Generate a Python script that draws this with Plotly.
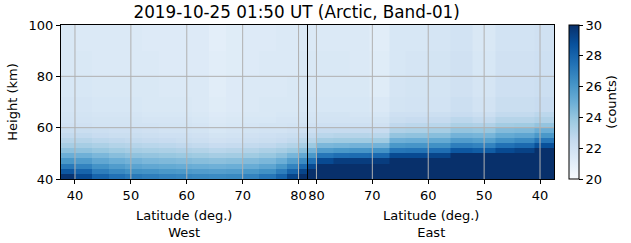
import numpy as np
import plotly.graph_objects as go

# ---------------- data ----------------
title_text = "2019-10-25 01:50 UT (Arctic, Band-01)"
boundary_lat = 81.6  # northernmost latitude where the West and East passes meet

# height bin edges (km)
height_edges = [40, 42, 44, 46, 48, 50, 52, 54, 56, 58, 60, 62, 64, 66, 72, 80, 90, 100]

# West pass: latitude bin edges (ascending, left -> right)
west_lat_edges = [37.5, 40, 43, 46, 49, 52, 55, 58, 61, 64, 67, 70, 73, 76, 78, 80, 81.6]
# one vertical profile (counts, bottom -> top) per latitude bin
west_profiles = [
    [29.8, 28.5, 27.2, 26.0, 25.0, 24.2, 23.5, 23.0, 22.6, 22.3, 22.0, 21.9, 21.8, 21.7, 21.6, 21.5, 21.5],
    [29.0, 28.0, 26.8, 25.8, 24.9, 24.1, 23.5, 23.0, 22.6, 22.3, 22.0, 21.9, 21.8, 21.7, 21.6, 21.5, 21.4],
    [28.0, 27.0, 26.2, 25.3, 24.6, 23.9, 23.3, 22.8, 22.4, 22.2, 21.9, 21.8, 21.7, 21.6, 21.5, 21.4, 21.4],
    [27.5, 26.6, 25.8, 25.0, 24.3, 23.7, 23.1, 22.7, 22.3, 22.1, 21.9, 21.8, 21.7, 21.6, 21.5, 21.4, 21.4],
    [27.2, 26.3, 25.5, 24.8, 24.1, 23.5, 23.0, 22.6, 22.3, 22.1, 21.9, 21.8, 21.7, 21.6, 21.5, 21.4, 21.4],
    [27.0, 26.2, 25.3, 24.6, 24.0, 23.4, 22.9, 22.5, 22.2, 22.0, 21.9, 21.7, 21.6, 21.5, 21.5, 21.4, 21.3],
    [26.8, 26.0, 25.2, 24.5, 23.9, 23.3, 22.8, 22.4, 22.1, 21.9, 21.8, 21.7, 21.6, 21.5, 21.4, 21.3, 21.3],
    [26.7, 25.9, 25.1, 24.4, 23.8, 23.2, 22.7, 22.3, 22.1, 21.9, 21.8, 21.7, 21.6, 21.5, 21.4, 21.3, 21.3],
    [26.6, 25.8, 25.0, 24.3, 23.7, 23.1, 22.6, 22.2, 22.0, 21.8, 21.7, 21.6, 21.5, 21.4, 21.4, 21.3, 21.3],
    [26.5, 25.7, 24.9, 24.2, 23.5, 22.9, 22.4, 22.0, 21.8, 21.6, 21.5, 21.4, 21.3, 21.2, 21.1, 21.1, 21.0],
    [26.6, 25.8, 25.0, 24.3, 23.6, 23.0, 22.5, 22.1, 21.9, 21.7, 21.6, 21.5, 21.4, 21.3, 21.3, 21.2, 21.2],
    [26.8, 26.0, 25.1, 24.4, 23.7, 23.1, 22.6, 22.2, 22.0, 21.8, 21.7, 21.6, 21.5, 21.4, 21.4, 21.3, 21.3],
    [27.3, 26.3, 25.4, 24.6, 23.9, 23.3, 22.7, 22.3, 22.1, 21.9, 21.8, 21.6, 21.5, 21.5, 21.4, 21.4, 21.3],
    [28.0, 27.0, 26.0, 25.0, 24.2, 23.5, 22.9, 22.4, 22.2, 21.9, 21.8, 21.7, 21.6, 21.5, 21.4, 21.4, 21.4],
    [29.2, 28.0, 26.8, 25.7, 24.7, 23.8, 23.1, 22.6, 22.3, 22.0, 21.9, 21.7, 21.6, 21.5, 21.5, 21.4, 21.4],
    [30.0, 29.2, 27.8, 26.5, 25.3, 24.3, 23.5, 22.9, 22.5, 22.1, 22.0, 21.8, 21.7, 21.6, 21.5, 21.5, 21.4],
]

# East pass: latitude bin edges (descending, left -> right)
east_lat_edges = [81.6, 80, 77, 74, 70.5, 67, 64, 60, 56, 52, 48, 44.5, 41, 37.5]
east_profiles = [
    [30.0, 30.0, 29.0, 27.5, 26.0, 24.8, 23.8, 23.0, 22.6, 22.2, 22.0, 21.8, 21.7, 21.6, 21.5, 21.5, 21.4],
    [30.0, 30.0, 30.0, 29.0, 27.3, 25.8, 24.6, 23.6, 22.9, 22.5, 22.1, 21.9, 21.8, 21.6, 21.5, 21.5, 21.4],
    [30.0, 30.0, 30.0, 29.5, 27.6, 26.0, 24.7, 23.7, 23.0, 22.5, 22.1, 21.9, 21.8, 21.6, 21.5, 21.5, 21.4],
    [30.0, 30.0, 30.0, 29.5, 27.7, 26.1, 24.8, 23.7, 23.0, 22.5, 22.1, 21.9, 21.7, 21.6, 21.5, 21.4, 21.4],
    [30.0, 30.0, 30.0, 29.5, 27.8, 26.2, 24.8, 23.7, 22.9, 22.4, 22.0, 21.8, 21.6, 21.4, 21.2, 21.2, 21.1],
    [30.0, 30.0, 30.0, 30.0, 29.0, 27.3, 26.0, 24.9, 24.0, 23.2, 22.7, 22.3, 22.1, 21.8, 21.7, 21.6, 21.6],
    [30.0, 30.0, 30.0, 30.0, 29.0, 27.4, 26.1, 25.0, 24.1, 23.3, 22.8, 22.4, 22.1, 21.9, 21.8, 21.7, 21.6],
    [30.0, 30.0, 30.0, 30.0, 29.2, 27.6, 26.3, 25.2, 24.3, 23.5, 22.9, 22.5, 22.2, 21.9, 21.8, 21.8, 21.7],
    [30.0, 30.0, 30.0, 30.0, 30.0, 28.5, 27.0, 25.8, 24.8, 24.0, 23.3, 22.8, 22.4, 22.2, 22.0, 22.0, 21.9],
    [30.0, 30.0, 30.0, 30.0, 30.0, 28.3, 26.8, 25.6, 24.7, 23.9, 23.2, 22.6, 22.2, 21.9, 21.7, 21.6, 21.5],
    [30.0, 30.0, 30.0, 30.0, 30.0, 29.0, 27.5, 26.2, 25.2, 24.4, 23.6, 23.0, 22.6, 22.3, 22.1, 22.0, 21.9],
    [30.0, 30.0, 30.0, 30.0, 30.0, 29.3, 27.8, 26.5, 25.4, 24.5, 23.7, 23.0, 22.6, 22.3, 22.1, 22.0, 21.9],
    [30.0, 30.0, 30.0, 30.0, 30.0, 30.0, 28.8, 27.3, 26.0, 25.0, 24.0, 23.2, 22.8, 22.4, 22.2, 22.1, 22.0],
]

west_tick_lats = [40, 50, 60, 70, 80]
east_tick_lats = [80, 70, 60, 50, 40]
height_ticks = [40, 60, 80, 100]
cbar_ticks = [20, 22, 24, 26, 28, 30]
zmin, zmax = 20, 30

# ---------------- figure ----------------
FONT = "DejaVu Sans"
blues = [
    [0.0, "#f7fbff"], [0.125, "#deebf7"], [0.25, "#c6dbef"], [0.375, "#9ecae1"],
    [0.5, "#6baed6"], [0.625, "#4292c6"], [0.75, "#2171b5"], [0.875, "#08519c"],
    [1.0, "#08306b"],
]


def east_u(lat):
    # continuous plot coordinate for the East pass (mirrored past the pole-side boundary)
    return 2 * boundary_lat - lat


west_x = list(west_lat_edges)
east_x = [east_u(v) for v in east_lat_edges]
x_lo = west_lat_edges[0]
x_hi = east_u(east_lat_edges[-1])

fig = go.Figure()
fig.add_trace(go.Heatmap(
    x=west_x, y=height_edges, z=np.array(west_profiles).T,
    coloraxis="coloraxis", hoverinfo="skip",
))
fig.add_trace(go.Heatmap(
    x=east_x, y=height_edges, z=np.array(east_profiles).T,
    coloraxis="coloraxis", hoverinfo="skip",
))

tickvals = list(west_tick_lats) + [east_u(v) for v in east_tick_lats]
ticktext = [str(v) for v in west_tick_lats] + [str(v) for v in east_tick_lats]

shapes = []
for tv in tickvals:
    shapes.append(dict(type="line", xref="x", yref="y", x0=tv, x1=tv,
                       y0=height_edges[0], y1=height_edges[-1],
                       line=dict(color="#b0b0b0", width=1), layer="above"))
for hv in height_ticks[1:-1]:
    shapes.append(dict(type="line", xref="x", yref="y", x0=x_lo, x1=x_hi,
                       y0=hv, y1=hv, line=dict(color="#b0b0b0", width=1), layer="above"))
shapes.append(dict(type="line", xref="x", yref="y", x0=boundary_lat, x1=boundary_lat,
                   y0=height_edges[0], y1=height_edges[-1],
                   line=dict(color="black", width=1), layer="above"))

fig.update_layout(
    width=631, height=243,
    margin=dict(l=61, r=74, t=25, b=64),
    paper_bgcolor="white", plot_bgcolor="white",
    font=dict(family=FONT, size=13, color="black"),
    title=dict(text=title_text, x=0.478, xref="paper", xanchor="center",
               y=0.95, yref="container", yanchor="middle",
               font=dict(family=FONT, size=16.8, color="black")),
    coloraxis=dict(
        cmin=zmin, cmax=zmax, colorscale=blues,
        colorbar=dict(
            x=1.03, xanchor="left", xpad=0, y=0.5, yanchor="middle",
            len=1.0, lenmode="fraction", ypad=0, thickness=10,
            outlinewidth=1, outlinecolor="black",
            tickvals=cbar_ticks, ticks="outside", ticklen=4, tickcolor="black",
            tickfont=dict(family=FONT, size=13, color="black"),
            title=dict(text="(counts)", side="right",
                       font=dict(family=FONT, size=13, color="black")),
        ),
    ),
    xaxis=dict(
        range=[x_lo, x_hi], tickmode="array", tickvals=tickvals, ticktext=ticktext,
        tickangle=0,
        ticks="outside", ticklen=4, tickcolor="black", showgrid=False, zeroline=False,
        showline=True, linecolor="black", linewidth=1, mirror=True,
        tickfont=dict(family=FONT, size=13, color="black"),
    ),
    yaxis=dict(
        range=[height_edges[0], height_edges[-1]], tickmode="array", tickvals=height_ticks,
        ticks="outside", ticklen=4, tickcolor="black", showgrid=False, zeroline=False,
        showline=True, linecolor="black", linewidth=1, mirror=True,
        tickfont=dict(family=FONT, size=13, color="black"),
        title=dict(text="Height (km)", font=dict(family=FONT, size=13, color="black"), standoff=8),
    ),
    shapes=shapes,
    annotations=[
        dict(text="Latitude (deg.)<br>West", x=0.25, xref="paper", y=-0.175, yref="paper",
             xanchor="center", yanchor="top", showarrow=False,
             font=dict(family=FONT, size=13, color="black")),
        dict(text="Latitude (deg.)<br>East", x=0.75, xref="paper", y=-0.175, yref="paper",
             xanchor="center", yanchor="top", showarrow=False,
             font=dict(family=FONT, size=13, color="black")),
    ],
)

fig.write_html("out.html")
